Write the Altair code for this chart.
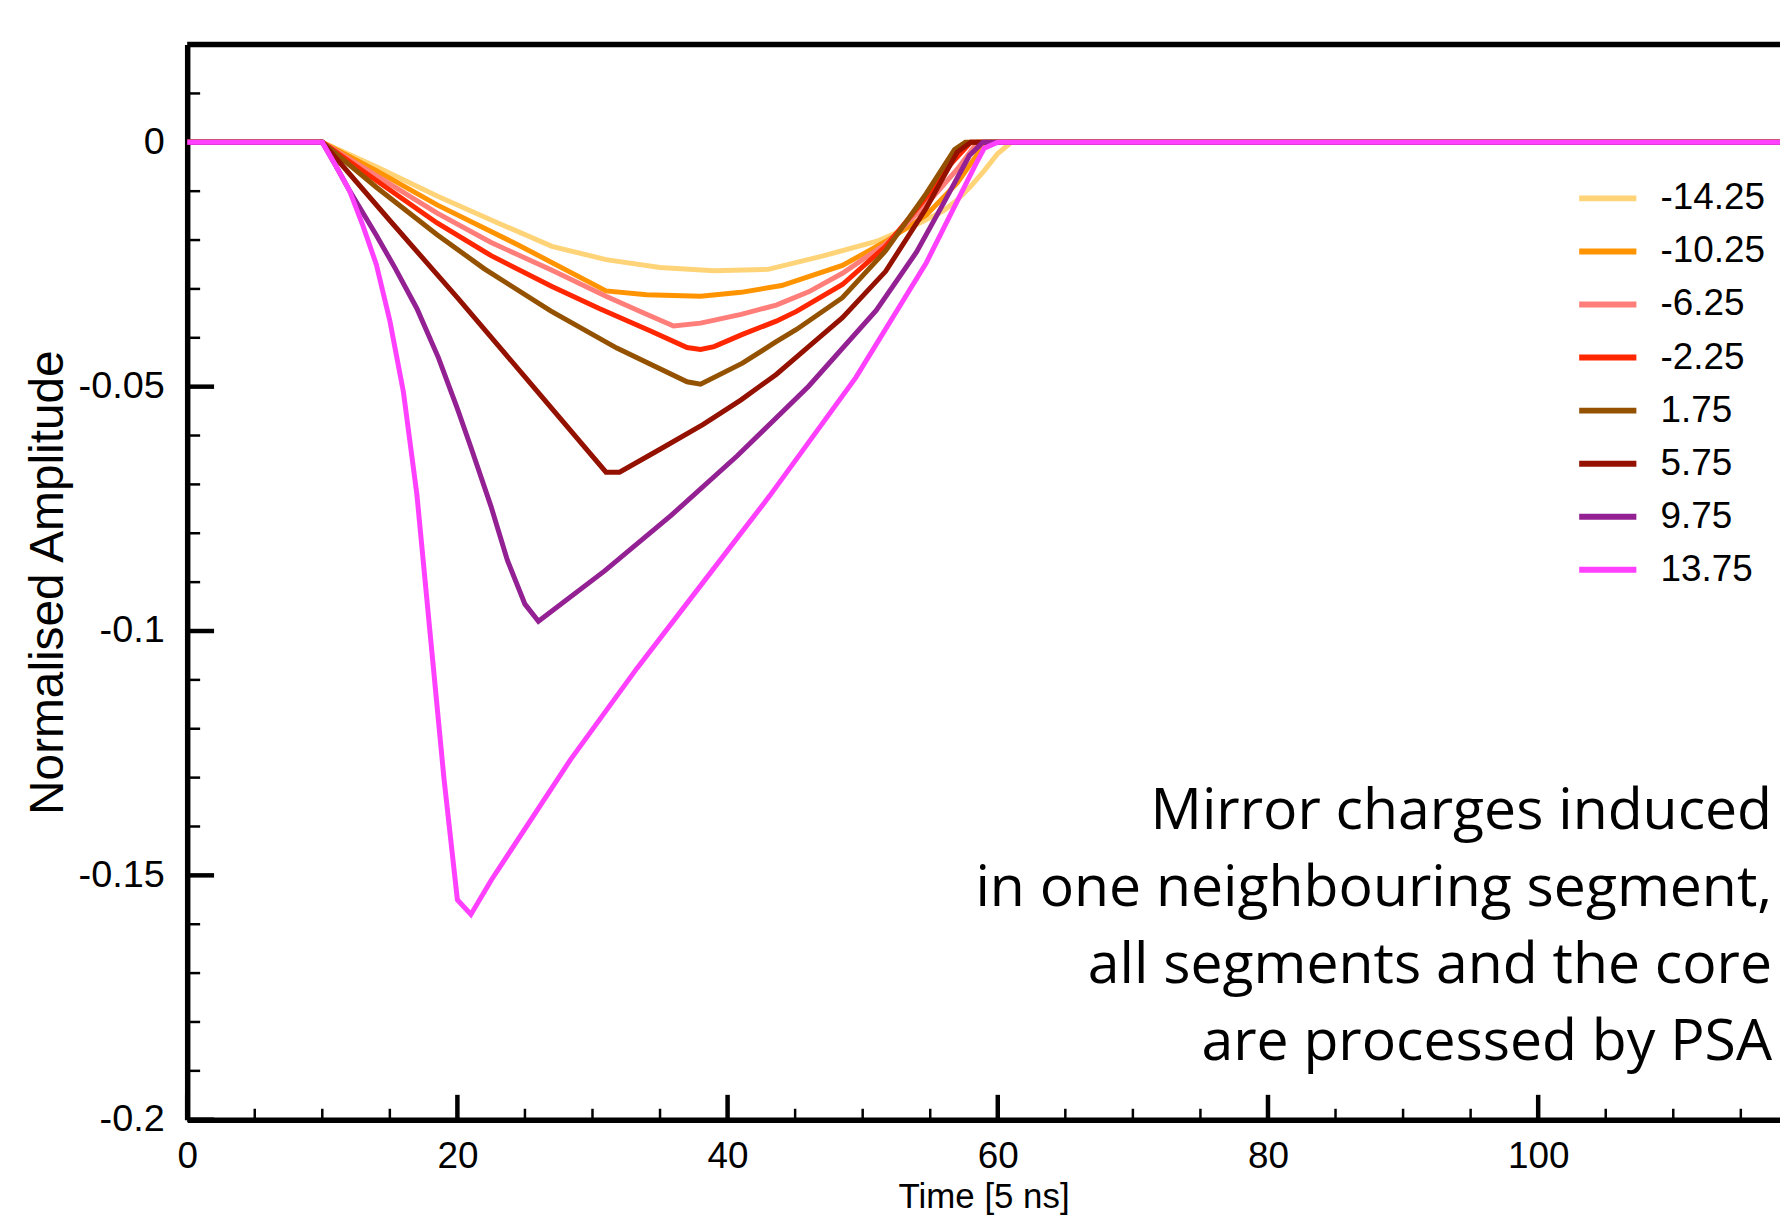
import altair as alt
import pandas as pd

# ---------------- data ----------------
series_labels = ["-14.25", "-10.25", "-6.25", "-2.25", "1.75", "5.75", "9.75", "13.75"]
series_colors = ["#FFD479", "#FF9300", "#FF7E79", "#FF2600", "#945200", "#941100", "#942193", "#FF40FF"]

t_m1425 = [0, 10, 14, 18.5, 23, 27, 31, 35, 39, 43, 47, 51, 54, 56, 57, 58, 59, 60, 61, 120]
a_m1425 = [0, 0, -0.005, -0.011, -0.0165, -0.0213, -0.024, -0.0256, -0.0263, -0.026, -0.0233,
           -0.0203, -0.0168, -0.014, -0.0118, -0.009, -0.0058, -0.0023, 0, 0]

t_m1025 = [0, 10, 14, 18.5, 24.5, 31, 34, 38, 41, 44, 48.5, 51.7, 54.7, 57, 58.6, 59.3, 120]
a_m1025 = [0, 0, -0.0058, -0.0128, -0.021, -0.0304, -0.0312, -0.0315, -0.0307, -0.0293, -0.0252,
           -0.0203, -0.0149, -0.0083, -0.002, 0, 0]

t_m625 = [0, 10, 14, 18.5, 22.5, 27, 31, 34, 36, 38, 41, 43.6, 46, 48.5, 51.7, 54.7, 57, 58.5, 120]
a_m625 = [0, 0, -0.0068, -0.0145, -0.0205, -0.0262, -0.0315, -0.0352, -0.0376, -0.037, -0.0352,
          -0.0333, -0.0306, -0.0268, -0.0208, -0.0128, -0.0055, 0, 0]

t_m225 = [0, 10, 14, 18.5, 22.5, 27, 30.5, 34.3, 37, 38, 39, 41.1, 43.6, 45.1, 48.5, 51.7, 54.7,
          56.6, 58, 120]
a_m225 = [0, 0, -0.0078, -0.0165, -0.0232, -0.0295, -0.034, -0.0386, -0.042, -0.0424, -0.0418,
          -0.0393, -0.0366, -0.0346, -0.0291, -0.0213, -0.0113, -0.0042, 0, 0]

t_p175 = [0, 10, 14, 18.5, 22, 26.9, 31.8, 37, 38, 41.1, 43.6, 45.1, 48.5, 51.7, 54.7, 56.8,
          57.6, 120]
a_p175 = [0, 0, -0.0092, -0.0189, -0.0259, -0.0345, -0.0421, -0.049, -0.0495, -0.0452,
          -0.0408, -0.0383, -0.0318, -0.0222, -0.0105, -0.0015, 0, 0]

t_p575 = [0, 10, 15, 20, 25, 31, 32, 35, 38.2, 41, 43.6, 46, 48.5, 51.7, 54.7, 57, 58, 120]
a_p575 = [0, 0, -0.016, -0.0318, -0.048, -0.0675, -0.0675, -0.0628, -0.0577, -0.0527, -0.0475,
          -0.0418, -0.0359, -0.0264, -0.0135, -0.002, 0, 0]

t_p975 = [0, 10, 11, 12, 14, 15.4, 17, 18.6, 20, 21, 22.5, 23.7, 25, 26, 30.9, 35.8, 40.7, 46,
          51, 54, 56, 57.9, 58.9, 120]
a_p975 = [0, 0, -0.0048, -0.0098, -0.019, -0.0258, -0.034, -0.0441, -0.0545, -0.0624, -0.0746,
          -0.0855, -0.0945, -0.098, -0.0877, -0.0764, -0.0642, -0.0499, -0.0344, -0.0224,
          -0.0124, -0.0027, 0, 0]

t_p1375 = [0, 10, 11, 12, 13, 14, 15, 16, 17, 18, 19, 20, 21, 22.5, 28.4, 33.3, 38.2, 43.1, 49.5,
           54.7, 58.4, 59, 60, 120]
a_p1375 = [0, 0, -0.0048, -0.0098, -0.017, -0.025, -0.0365, -0.051, -0.072, -0.101, -0.13, -0.155,
           -0.158, -0.151, -0.1262, -0.1076, -0.09, -0.0724, -0.0481, -0.0247, -0.0043, -0.0012,
           0, 0]

x_label_values = [0, 20, 40, 60, 80, 100]
x_minor_ticks = [5, 10, 15, 25, 30, 35, 45, 50, 55, 65, 70, 75, 85, 90, 95, 105, 110, 115]
y_label_values = [0, -0.05, -0.1, -0.15, -0.2]
y_minor_ticks = [0.01, -0.01, -0.02, -0.03, -0.04, -0.06, -0.07, -0.08, -0.09, -0.11, -0.12,
                 -0.13, -0.14, -0.16, -0.17, -0.18, -0.19]

note_lines = ["Mirror charges induced", "in one neighbouring segment,",
              "all segments and the core", "are processed by PSA"]

x_title = "Time [5 ns]"
y_title = "Normalised Amplitude"

# ---------------- assemble ----------------
all_t = [t_m1425, t_m1025, t_m625, t_m225, t_p175, t_p575, t_p975, t_p1375]
all_a = [a_m1425, a_m1025, a_m625, a_m225, a_p175, a_p575, a_p975, a_p1375]
rows = []
for k, (lab, ts, vs) in enumerate(zip(series_labels, all_t, all_a)):
    for t, v in zip(ts, vs):
        rows.append({"series": lab, "t": t, "amp": v, "k": k})
df = pd.DataFrame(rows)

FONT = "Liberation Sans"
W, H = 1600, 1080

x_scale = alt.Scale(domain=[0, 117.9], nice=False, zero=False)
y_scale = alt.Scale(domain=[-0.2, 0.02], nice=False, zero=False)

x_axis = alt.Axis(
    values=x_label_values, ticks=False, grid=False, domain=True,
    domainColor="black", domainWidth=5.5, labelFont=FONT, labelFontSize=37,
    labelColor="black", labelPadding=19, labelFlush=False, labelOverlap=False,
    title=x_title, titleFont=FONT, titleFontSize=35, titleFontWeight="normal",
    titleColor="black", titleBaseline="alphabetic", titleY=88)
y_axis = alt.Axis(
    values=y_label_values, ticks=False, grid=False, domain=True,
    domainColor="black", domainWidth=5.5, labelFont=FONT, labelFontSize=38,
    labelColor="black", labelPadding=23, labelFlush=False, labelOverlap=False,
    labelExpr="datum.value < 0 ? '-' + format(-datum.value, '') : format(datum.value, '')",
    title=y_title, titleFont=FONT, titleFontSize=48, titleFontWeight="normal",
    titleColor="black", titleAngle=270, titleBaseline="middle", titleX=-139, titleY=H / 2)

lines = alt.Chart(df).mark_line(strokeWidth=5, clip=True).encode(
    x=alt.X("t:Q", scale=x_scale, axis=x_axis),
    y=alt.Y("amp:Q", scale=y_scale, axis=y_axis),
    color=alt.Color("series:N", scale=alt.Scale(domain=series_labels, range=series_colors),
                    legend=alt.Legend(title=None, orient="none", legendX=1395, legendY=129,
                                      symbolType="stroke", symbolSize=3300,
                                      symbolStrokeWidth=6, labelFont=FONT, labelFontSize=37,
                                      labelColor="black", labelOffset=21, clipHeight=51,
                                      rowPadding=2.3, padding=0)),
    detail="k:O",
)

y_major = alt.Chart(pd.DataFrame({"amp": y_label_values})).mark_rule(
    color="black", strokeWidth=4.5).encode(
    y=alt.Y("amp:Q", scale=y_scale, axis=y_axis), x=alt.value(0), x2=alt.value(27))
y_minor = alt.Chart(pd.DataFrame({"amp": y_minor_ticks})).mark_rule(
    color="black", strokeWidth=2.5).encode(
    y=alt.Y("amp:Q", scale=y_scale, axis=y_axis), x=alt.value(0), x2=alt.value(13))
x_major = alt.Chart(pd.DataFrame({"t": x_label_values})).mark_rule(
    color="black", strokeWidth=4.5).encode(
    x=alt.X("t:Q", scale=x_scale, axis=x_axis), y=alt.value(H), y2=alt.value(H - 25))
x_minor = alt.Chart(pd.DataFrame({"t": x_minor_ticks})).mark_rule(
    color="black", strokeWidth=2.5).encode(
    x=alt.X("t:Q", scale=x_scale, axis=x_axis), y=alt.value(H), y2=alt.value(H - 11))

top_border = alt.Chart(pd.DataFrame({"a": [0]})).mark_rule(
    color="black", strokeWidth=5.5).encode(
    y=alt.value(0), x=alt.value(0), x2=alt.value(W))

note = alt.Chart(pd.DataFrame({"a": [0]})).mark_text(
    align="right", baseline="alphabetic", font="Open Sans", fontSize=57.4,
    lineHeight=77.5, color="black").encode(
    x=alt.value(1592), y=alt.value(788), text=alt.value(note_lines))

chart = alt.layer(
    y_minor, y_major, x_minor, x_major, top_border, lines, note
).properties(
    width=W, height=H,
    padding={"left": 180, "top": 34, "right": 0, "bottom": 96},
    autosize=alt.AutoSizeParams(type="none"),
    background="white",
).configure_view(stroke=None)

chart.save("out.html", embed_options={"renderer": "svg", "actions": False})
